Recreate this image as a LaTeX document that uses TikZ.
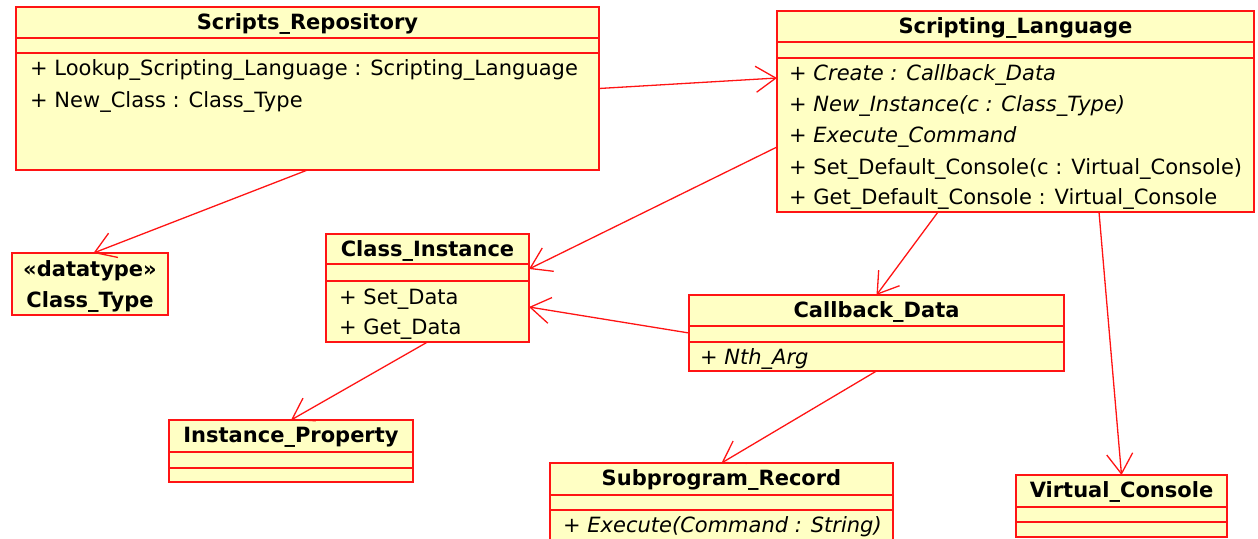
\documentclass[tikz,border=0pt]{standalone}
\usepackage{fontspec}
\setmainfont{DejaVu Sans}
\usetikzlibrary{arrows.meta, positioning, calc}
\definecolor{umlred}{RGB}{255,20,20}
\definecolor{umlfill}{RGB}{255,255,196}

\begin{document}
\begin{tikzpicture}[
    x=1pt, y=-1pt,
    cls/.style={draw=umlred, fill=umlfill, line width=1.8pt, inner sep=0pt, outer sep=0pt},
    divider/.style={draw=umlred, line width=1.6pt},
    title/.style={font=\fontsize{21}{25}\selectfont\bfseries, inner sep=0pt, text height=15.3pt, text depth=0pt},
    member/.style={font=\fontsize{21}{25}\selectfont, inner sep=0pt, anchor=west, text height=15.3pt, text depth=0pt},
    abstract/.style={member, font=\fontsize{21}{25}\selectfont\itshape},
    assoc/.style={draw=umlred, line width=1.3pt, -{Straight Barb[length=20pt, width=26pt, line width=1.3pt]}}
]
    \useasboundingbox (0,0) rectangle (1258,538);
    \begin{scope}
    \clip (0,0) rectangle (1258,538);

    % Scripts_Repository
    \node[cls, minimum width=583pt, minimum height=163pt] (repo) at (307.5,88.5) {};
    \draw[divider] (16,38) -- (599,38);
    \draw[divider] (16,53) -- (599,53);
    \node[title] (repoT) at (307.5,22) {Scripts\_Repository};
    \node[member] (repoR1) at (30,68) {+ Lookup\_Scripting\_Language : Scripting\_Language};
    \node[member] (repoR2) at (30,100) {+ New\_Class : Class\_Type};

    % Scripting_Language
    \node[cls, minimum width=477pt, minimum height=201pt] (lang) at (1015.5,111.5) {};
    \draw[divider] (777,42) -- (1254,42);
    \draw[divider] (777,58) -- (1254,58);
    \node[title] (langT) at (1015.5,26) {Scripting\_Language};
    \node[abstract] (langR1) at (789,73) {+ Create : Callback\_Data};
    \node[abstract] (langR2) at (789,104) {+ New\_Instance(c : Class\_Type)};
    \node[abstract] (langR3) at (789,135) {+ Execute\_Command};
    \node[member] (langR4) at (789,167) {+ Set\_Default\_Console(c : Virtual\_Console)};
    \node[member] (langR5) at (789,197) {+ Get\_Default\_Console : Virtual\_Console};

    % Class_Type
    \node[cls, minimum width=156pt, minimum height=62pt] (ctype) at (90,284) {};
    \node[title] (ctypeS) at (90,269) {«datatype»};
    \node[title] (ctypeT) at (90,300) {Class\_Type};

    % Class_Instance
    \node[cls, minimum width=203pt, minimum height=108pt] (cinst) at (427.5,288) {};
    \draw[divider] (326,264) -- (529,264);
    \draw[divider] (326,281) -- (529,281);
    \node[title] (cinstT) at (427.5,249) {Class\_Instance};
    \node[member] (cinstR1) at (339,297) {+ Set\_Data};
    \node[member] (cinstR2) at (339,327) {+ Get\_Data};

    % Instance_Property
    \node[cls, minimum width=244pt, minimum height=62pt] (iprop) at (291,451) {};
    \draw[divider] (169,452) -- (413,452);
    \draw[divider] (169,468) -- (413,468);
    \node[title] (ipropT) at (291,435) {Instance\_Property};

    % Callback_Data
    \node[cls, minimum width=375pt, minimum height=76pt] (cback) at (876.5,333) {};
    \draw[divider] (689,326) -- (1064,326);
    \draw[divider] (689,342) -- (1064,342);
    \node[title] (cbackT) at (876.5,310) {Callback\_Data};
    \node[abstract] (cbackR1) at (700,357) {+ Nth\_Arg};

    % Subprogram_Record
    \node[cls, minimum width=343pt, minimum height=86pt] (subrec) at (721.5,506) {};
    \draw[divider] (550,495) -- (893,495);
    \draw[divider] (550,510) -- (893,510);
    \node[title] (subrecT) at (721.5,478) {Subprogram\_Record};
    \node[abstract] (subrecR1) at (563,525) {+ Execute(Command : String)};

    % Virtual_Console
    \node[cls, minimum width=211pt, minimum height=62pt] (vcons) at (1121.5,506) {};
    \draw[divider] (1016,507) -- (1227,507);
    \draw[divider] (1016,522) -- (1227,522);
    \node[title] (vconsT) at (1121.5,490) {Virtual\_Console};

    % Associations
    \draw[assoc] (repo.east) -- ([yshift=33.5pt]lang.west);
    \draw[assoc] (repo.south) -- ([xshift=3.5pt]ctype.north);
    \draw[assoc] ([yshift=-35.5pt]lang.west) -- ([yshift=19pt]cinst.east);
    \draw[assoc] (cback.west) -- ([yshift=-19pt]cinst.east);
    \draw[assoc] ([xshift=-77.5pt]lang.south) -- (cback.north);
    \draw[assoc] ([xshift=83.5pt]lang.south) -- (vcons.north);
    \draw[assoc] (cinst.south) -- (iprop.north);
    \draw[assoc] (cback.south) -- (subrec.north);
    \end{scope}
\end{tikzpicture}
\end{document}
